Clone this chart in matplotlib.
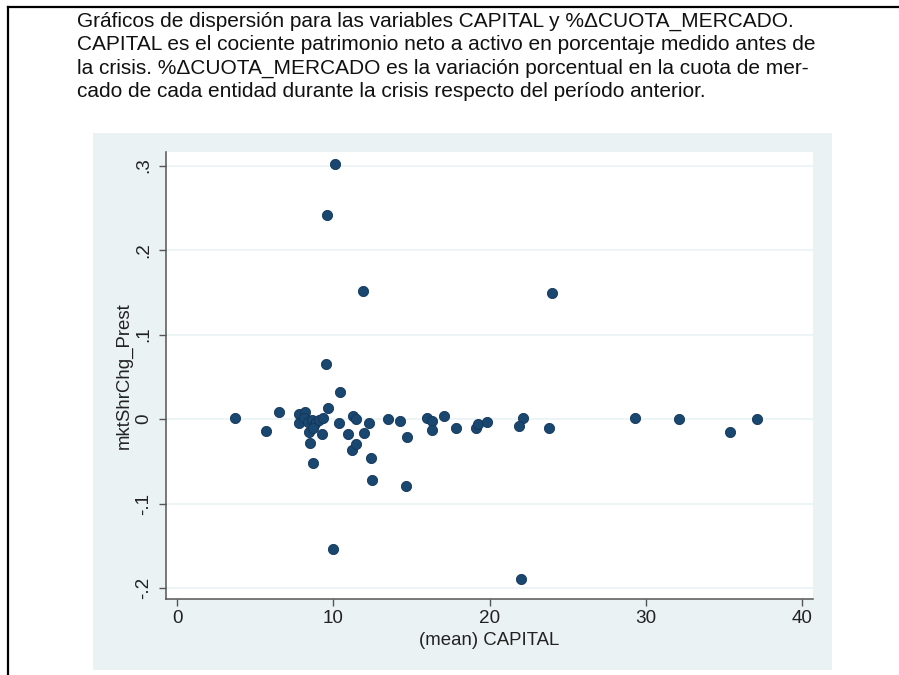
import matplotlib

matplotlib.use("Agg")
import matplotlib.pyplot as plt  # noqa: E402
from matplotlib.lines import Line2D  # noqa: E402
from matplotlib.patches import Rectangle  # noqa: E402

# ---- data (x = mean CAPITAL, y = mktShrChg_Prest) ----
capital = [3.7, 5.7, 6.5, 7.8, 8.2, 7.8, 8.1, 8.4, 8.6, 8.75, 8.9, 9.1, 9.35,
           9.65, 8.45, 9.27, 8.5, 8.67, 8.67, 9.5, 9.56, 10.1, 11.9, 10.4,
           10.35, 9.94, 10.9, 11.27, 11.45, 11.17, 11.45, 12.3, 11.95, 12.38,
           12.46, 13.5, 14.25, 14.68, 14.64, 16.0, 16.3, 16.3, 17.07, 17.84,
           19.12, 19.27, 19.8, 22.15, 21.9, 21.98, 23.8, 24.0, 29.3, 32.1,
           35.4, 37.1]
mkt_shr_chg = [0.001, -0.014, 0.008, 0.006, 0.009, -0.005, 0.001, -0.003,
               -0.001, -0.007, -0.003, -0.001, 0.001, 0.013, -0.015, -0.017,
               -0.028, -0.052, -0.011, 0.065, 0.242, 0.302, 0.152, 0.032,
               -0.004, -0.154, -0.018, 0.004, 0.0, -0.037, -0.029, -0.004,
               -0.016, -0.046, -0.072, 0.0, -0.002, -0.021, -0.079, 0.002,
               -0.002, -0.013, 0.004, -0.011, -0.010, -0.006, -0.003, 0.002,
               -0.008, -0.189, -0.010, 0.149, 0.002, 0.0, -0.015, 0.0]

x_ticks = [0, 10, 20, 30, 40]
y_ticks = [-0.2, -0.1, 0.0, 0.1, 0.2, 0.3]
y_tick_labels = ["-.2", "-.1", "0", ".1", ".2", ".3"]

caption = [
    "Gráficos de dispersión para las variables CAPITAL y %ΔCUOTA_MERCADO.",
    "CAPITAL es el cociente patrimonio neto a activo en porcentaje medido antes de",
    "la crisis. %ΔCUOTA_MERCADO es la variación porcentual en la cuota de mer-",
    "cado de cada entidad durante la crisis respecto del período anterior.",
]

plt.rcParams["font.family"] = ["Liberation Sans", "DejaVu Sans"]

W, H = 899, 675
fig = plt.figure(figsize=(W / 100, H / 100), dpi=100)

# page frame (top + left rule)
fig.add_artist(Line2D([8 / W, 898 / W], [1 - 7 / H, 1 - 7 / H], color="black", lw=1.6))
fig.add_artist(Line2D([8 / W, 8 / W], [1 - 7 / H, 0], color="black", lw=1.6))

# caption
for i, line in enumerate(caption):
    fig.text(77 / W, 1 - (26.5 + 23.6 * i) / H, line, fontsize=15.0,
             color="#111111", va="baseline", ha="left")

# stata-ish graph region, behind the axes
fig.patches.append(Rectangle((93 / W, 1 - 670 / H), 739 / W, 537 / H,
                             transform=fig.transFigure, facecolor="#eaf2f3",
                             edgecolor="none", zorder=-5))

ax = fig.add_axes([166 / W, 1 - 599.3 / H, (813 - 166) / W, (599.3 - 152) / H])
ax.set_zorder(2)
ax.set_facecolor("white")
ax.scatter(capital, mkt_shr_chg, s=54, color="#1a476f", edgecolor="#12365a",
           linewidth=0.6, zorder=3)

ax.set_xlim(-0.72, 40.7)
ax.set_ylim(-0.213, 0.316)
ax.set_xticks(x_ticks)
ax.set_yticks(y_ticks)
ax.set_yticklabels(y_tick_labels)
ax.grid(axis="y", color="#eaf2f3", lw=1.2, zorder=0)
ax.set_axisbelow(True)
for side in ["top", "right"]:
    ax.spines[side].set_visible(False)
for side in ["left", "bottom"]:
    ax.spines[side].set_color("#555555")
    ax.spines[side].set_linewidth(1.1)
ax.tick_params(direction="out", length=5, width=1.0, color="#555555",
               labelsize=13.6, labelcolor="#222222")
ax.tick_params(axis="x", pad=3)
ax.tick_params(axis="y", pad=5, labelrotation=90)
for lab in ax.get_yticklabels():
    lab.set_va("center")

ax.set_xlabel("(mean) CAPITAL", fontsize=13.4, color="#222222", labelpad=3)
ax.set_ylabel("mktShrChg_Prest", fontsize=13.4, color="#222222", labelpad=2)

fig.savefig("out.png", dpi=100)
